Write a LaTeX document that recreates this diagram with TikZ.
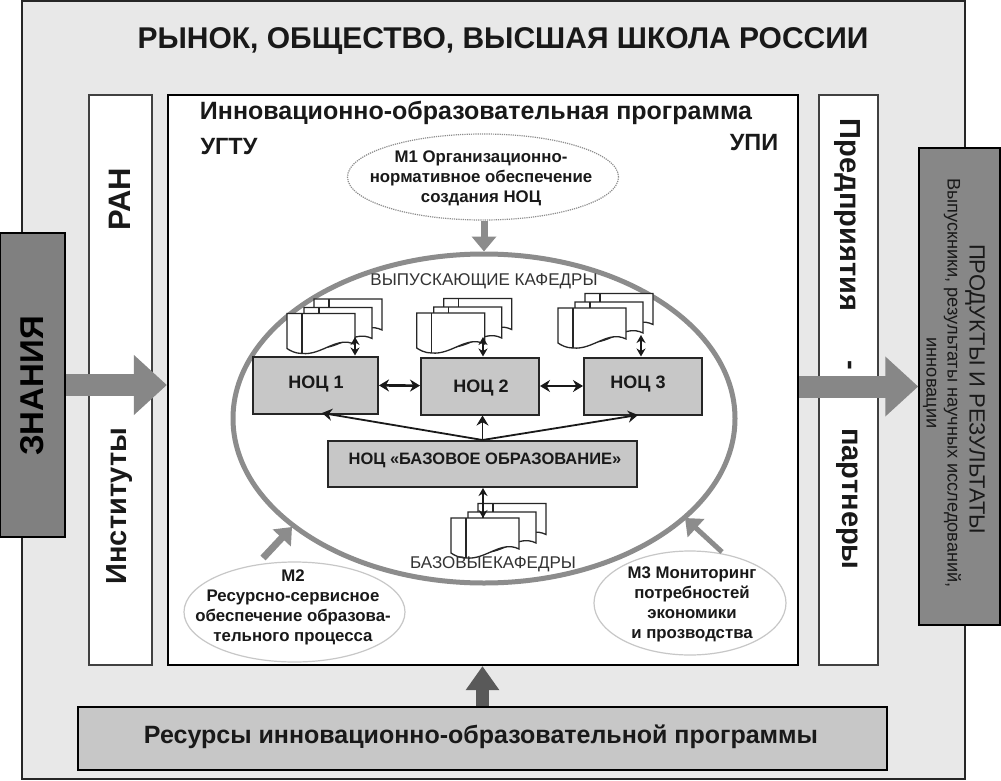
\documentclass[tikz,border=0pt]{standalone}
\usepackage{fontspec}
\setmainfont{Liberation Sans}
\usepackage{xcolor}
\usetikzlibrary{arrows.meta,positioning,shapes.geometric}

% one sheet with a folded-off left strip, three of them make a stack
\newcommand{\docpage}[2]{%
  \draw[pagedraw,fill=white] (#1,#2) -- ++(68,0) -- ++(0,31)
    .. controls +(-18,-9) and +(20,2) .. ++(-53,9)
    .. controls +(-7,0) and +(3,2) .. ++(-15,-5) -- cycle;
  \draw[pagedraw] (#1+15,#2) -- ++(0,40);}
\newcommand{\docstack}[2]{%
  \docpage{#1+27}{#2-14.5}
  \docpage{#1+17}{#2-6}
  \docpage{#1}{#2}}

\begin{document}
\begin{tikzpicture}[x=1pt,y=-1pt,>={Stealth},every node/.style={font=\bfseries,align=center,text=black!90}]
  \tikzset{strip/.style={draw=black!75,line width=1.5pt,fill=white,minimum width=#1,minimum height=570pt,inner sep=0pt},
           noc/.style={draw=black!85,line width=2pt,fill=black!22,minimum height=57pt,inner sep=0pt},
           oval/.style={ellipse,draw=black!22,line width=1.2pt,fill=white,inner sep=0pt},
           ovaltxt/.style={font=\bfseries\fontsize{16.8}{20}\selectfont},
           nocfont/.style={font=\bfseries\fontsize{18}{20}\selectfont},
           sidefont/.style={font=\bfseries\fontsize{29}{32}\selectfont},
           graybar/.style={line width=#1,draw=black!47,-{Triangle[length=33pt,width=58pt]}},
           thinbar/.style={line width=7pt,draw=black!45,-{Triangle[length=15pt,width=24pt]}},
           link/.style={line width=2.6pt,draw=black!90,<->,>={Stealth[length=10pt,width=12pt]}},
           doclink/.style={line width=1.8pt,draw=black!90,<->,>={Stealth[length=8pt,width=9pt]}},
           fan/.style={line width=1.8pt,draw=black!90,->,>={Stealth[length=10pt,width=12pt]}},
           pagedraw/.style={draw=black!85,line width=1.3pt},
           deptlabel/.style={font=\fontsize{17}{20}\selectfont,text=black!80}}
  \useasboundingbox (0,0) rectangle (1001,781);
  \node[draw=black!85,line width=1.3pt,fill=black!9,minimum width=943pt,minimum height=778pt,inner sep=0pt] (frame) at (493.5,390) {};
  \node[font=\bfseries\fontsize{30}{34}\selectfont] (title) at (503,41) {РЫНОК, ОБЩЕСТВО,  ВЫСШАЯ ШКОЛА РОССИИ};

  % side strips and the programme field
  \node[strip=63pt] (ran) at (120.5,380) {};
  \node[strip=59pt] (firms) at (848.5,380) {};
  \node[draw=black,line width=2.2pt,fill=white,minimum width=630pt,minimum height=570pt,inner sep=0pt] (field) at (483,380) {};
  \node[rotate=90,font=\bfseries\fontsize{31}{34}\selectfont] (rantxt) at (120,199) {РАН};
  \node[rotate=90,sidefont] (insttxt) at (120,506) {Институты};
  \node[rotate=-90,sidefont] (firmtxt) at (847,215) {Предприятия};
  \node[rotate=-90,sidefont] (dashtxt) at (847,365) {-};
  \node[rotate=-90,sidefont] (parttxt) at (847,499) {партнеры};

  \node[font=\bfseries\fontsize{25}{28}\selectfont] (prog) at (476,113) {Инновационно-образовательная программа};
  \node[font=\bfseries\fontsize{23.5}{26}\selectfont] (ugtu) at (229,147) {УГТУ};
  \node[font=\bfseries\fontsize{23.5}{26}\selectfont] (upi) at (754,143) {УПИ};

  % outer boxes
  \node[draw=black,line width=1.5pt,fill=black!50,minimum width=65pt,minimum height=304pt,inner sep=0pt] (know) at (32.5,385) {};
  \node[rotate=90,font=\bfseries\fontsize{33}{36}\selectfont,text=black] (knowtxt) at (32,386) {ЗНАНИЯ};
  \node[draw=black,line width=1.5pt,fill=black!47,minimum width=81pt,minimum height=477pt,inner sep=0pt] (prod) at (959.5,386.5) {};
  \node[rotate=-90,font=\fontsize{22}{24}\selectfont] (prodtxt) at (975,389) {ПРОДУКТЫ И РЕЗУЛЬТАТЫ};
  \node[rotate=-90,font=\fontsize{18.2}{21}\selectfont] (prodsub) at (942,383) {Выпускники, результаты научных исследований,\\инновации};
  \node[draw=black,line width=1.5pt,fill=black!22,minimum width=809pt,minimum height=63pt,inner sep=0pt] (res) at (482.5,738.5) {};
  \node[font=\bfseries\fontsize{25}{28}\selectfont] (restxt) at (481,737) {Ресурсы инновационно-образовательной программы};

  % oval with the centres
  \node[ellipse,draw=black!45,line width=5pt,minimum width=502pt,minimum height=329pt,inner sep=0pt] (ring) at (484,418.5) {};
  \node[deptlabel] (outdep) at (484,281) {ВЫПУСКАЮЩИЕ КАФЕДРЫ};
  \docstack{287}{313.5}
  \docstack{416.7}{313}
  \docstack{558}{308}
  \docstack{451}{518}
  \coordinate (doca) at (355,337);
  \coordinate (docb) at (483,337);
  \coordinate (docc) at (641,335);
  \coordinate (docd) at (483,518);
  \node[noc,minimum width=125pt] (noca) at (315.5,385) {};
  \node[noc,minimum width=118pt] (nocb) at (480,386) {};
  \node[noc,minimum width=118pt] (nocc) at (643,386) {};
  \node[nocfont] (nocatxt) at (316,384) {НОЦ 1};
  \node[nocfont] (nocbtxt) at (481,388) {НОЦ 2};
  \node[nocfont] (nocctxt) at (638,384) {НОЦ 3};
  \node[noc,minimum width=309pt,minimum height=46pt] (base) at (482.5,464) {};
  \node[font=\bfseries\fontsize{16.5}{20}\selectfont] (basetxt) at (485,460) {НОЦ «БАЗОВОЕ ОБРАЗОВАНИЕ»};
  \node[deptlabel] (basedep) at (493,564) {БАЗОВЫЕКАФЕДРЫ};

  \draw[link] (noca) -- (nocb);
  \draw[link] (nocb) -- (nocc);
  \draw[doclink] (doca) -- (doca |- noca.north);
  \draw[doclink] (docb) -- (docb |- nocb.north);
  \draw[doclink] (docc) -- (docc |- nocc.north);
  \draw[doclink] (docd) -- (docd |- base.south);
  \coordinate (fana) at (322,413);
  \coordinate (fanc) at (638,415);
  \draw[fan] (base.north) -- (fana);
  \draw[fan] (base.north) -- (nocb.south -| base.north);
  \draw[fan] (base.north) -- (fanc);

  % mechanisms
  \node[oval,draw=black!45,densely dotted,minimum width=271pt,minimum height=86pt] (mone) at (483,177) {};
  \node[ovaltxt] (monetxt) at (481,178.5) {М1 Организационно-\\нормативное обеспечение\\создания НОЦ};
  \node[oval,minimum width=221pt,minimum height=100pt] (mtwo) at (294.5,612) {};
  \node[ovaltxt] (mtwotxt) at (293,607) {М2\\Ресурсно-сервисное\\обеспечение образова-\\тельного процесса};
  \node[oval,minimum width=192pt,minimum height=104pt] (mthree) at (690,603) {};
  \node[ovaltxt] (mthreetxt) at (692,604) {М3 Мониторинг\\потребностей\\экономики\\и прозводства};
  \coordinate (mtwotip) at (292,527);
  \coordinate (mtwotail) at (263,558);
  \coordinate (mthreetip) at (685,518);
  \coordinate (mthreetail) at (722,552);
  \draw[thinbar] (mone.south -| ring.north) -- (ring.north);
  \draw[thinbar] (mtwotail) -- (mtwotip);
  \draw[thinbar,line width=5pt] (mthreetail) -- (mthreetip);

  % big arrows
  \draw[graybar=22pt] (know.east) -- (know.east -| field.west);
  \draw[graybar=22pt] (field.east |- prod.west) -- (prod.west);
  \draw[line width=13pt,draw=black!65,-{Triangle[length=24pt,width=32pt]}] (res.north) -- (res.north |- field.south);
\end{tikzpicture}
\end{document}
